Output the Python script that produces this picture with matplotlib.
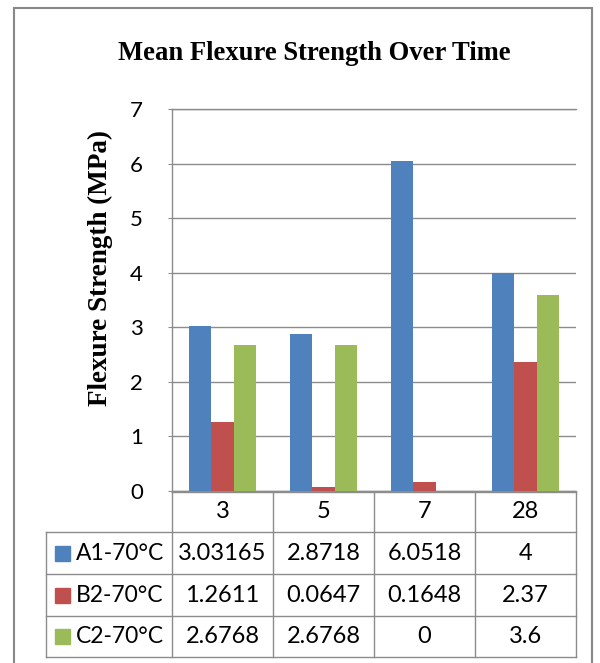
import matplotlib
matplotlib.use("Agg")
import matplotlib.pyplot as plt
import matplotlib.transforms as mtransforms
from matplotlib.lines import Line2D
from matplotlib.patches import Rectangle
import numpy as np

# data
days = ["3", "5", "7", "28"]
series = ["A1-70°C", "B2-70°C", "C2-70°C"]
a1 = [3.03165, 2.8718, 6.0518, 4]
b2 = [1.2611, 0.0647, 0.1648, 2.37]
c2 = [2.6768, 2.6768, 0, 3.6]
colors = ["#4F81BD", "#C0504D", "#9BBB59"]

W, H = 600, 663
GRID = "#8c8c8c"
SANS = ["Lato", "DejaVu Sans"]
SERIF = ["Liberation Serif", "DejaVu Serif"]


def fx(px):
    return px / W


def fy(py):
    return 1 - py / H


fig = plt.figure(figsize=(W / 100, H / 100), dpi=100)
fig.patch.set_facecolor("white")

# outer chart frame (bottom edge runs off the picture)
fig.add_artist(Rectangle((fx(14), fy(700)), fx(592) - fx(14), fy(8) - fy(700),
                         transform=fig.transFigure, fill=False,
                         edgecolor="#888888", lw=1.5))

ax = fig.add_axes([fx(172), fy(491), fx(576) - fx(172), fy(109) - fy(491)])

x = np.arange(len(days))
bw = 1 / 4.5
for i, vals in enumerate([a1, b2, c2]):
    ax.bar(x + (i - 1) * bw, vals, width=bw, color=colors[i], zorder=3)

ax.set_xlim(-0.5, len(days) - 0.5)
ax.set_ylim(0, 7)
ax.set_yticks(range(0, 8))
ax.set_xticks([])
ax.yaxis.grid(True, color=GRID, lw=1.0, zorder=0)
ax.set_axisbelow(True)
for s in ["left", "bottom", "top"]:
    ax.spines[s].set_color(GRID)
    ax.spines[s].set_linewidth(1.0)
ax.spines["right"].set_visible(False)
ax.tick_params(axis="y", length=3, color=GRID, pad=18, labelsize=16)
for lab in ax.get_yticklabels():
    lab.set_family(SANS)

fig.text(fx(314), fy(53), "Mean Flexure Strength Over Time", ha="center",
         va="center", family=SERIF, fontweight="bold", fontsize=19.2)
fig.text(fx(100), fy(268), "Flexure Strength (MPa)", ha="center", va="center",
         rotation=90, family=SERIF, fontweight="bold", fontsize=19.5)

# data table under the plot, columns follow the category axis
tr = mtransforms.blended_transform_factory(ax.transData, fig.transFigure)
rows_y = [492, 532, 574, 616, 657]
edges = np.arange(len(days) + 1) - 0.5
x0 = ax.transData.inverted().transform(fig.transFigure.transform((fx(46), 0)))[0]

for k, ry in enumerate(rows_y):
    left = -0.5 if k == 0 else x0
    fig.add_artist(Line2D([left, edges[-1]], [fy(ry), fy(ry)], transform=tr,
                          color=GRID, lw=1.0))
for e in edges:
    fig.add_artist(Line2D([e, e], [fy(rows_y[0]), fy(rows_y[-1])], transform=tr,
                          color=GRID, lw=1.0))
fig.add_artist(Line2D([x0, x0], [fy(rows_y[1]), fy(rows_y[-1])], transform=tr,
                      color=GRID, lw=1.0))

for j, d in enumerate(days):
    fig.text(j, fy((rows_y[0] + rows_y[1]) / 2), d, transform=tr, ha="center",
             va="center", family=SANS, fontsize=17)

for i, (name, vals) in enumerate(zip(series, [a1, b2, c2])):
    cy = (rows_y[i + 1] + rows_y[i + 2]) / 2
    fig.add_artist(Rectangle((fx(55), fy(cy + 7.5)), fx(15), 15 / H,
                             transform=fig.transFigure, color=colors[i]))
    fig.text(fx(76), fy(cy), name, ha="left", va="center", family=SANS,
             fontsize=16.5)
    for j, v in enumerate(vals):
        fig.text(j, fy(cy), f"{v:g}", transform=tr, ha="center", va="center",
                 family=SANS, fontsize=17)

fig.savefig("out.png", dpi=100)
